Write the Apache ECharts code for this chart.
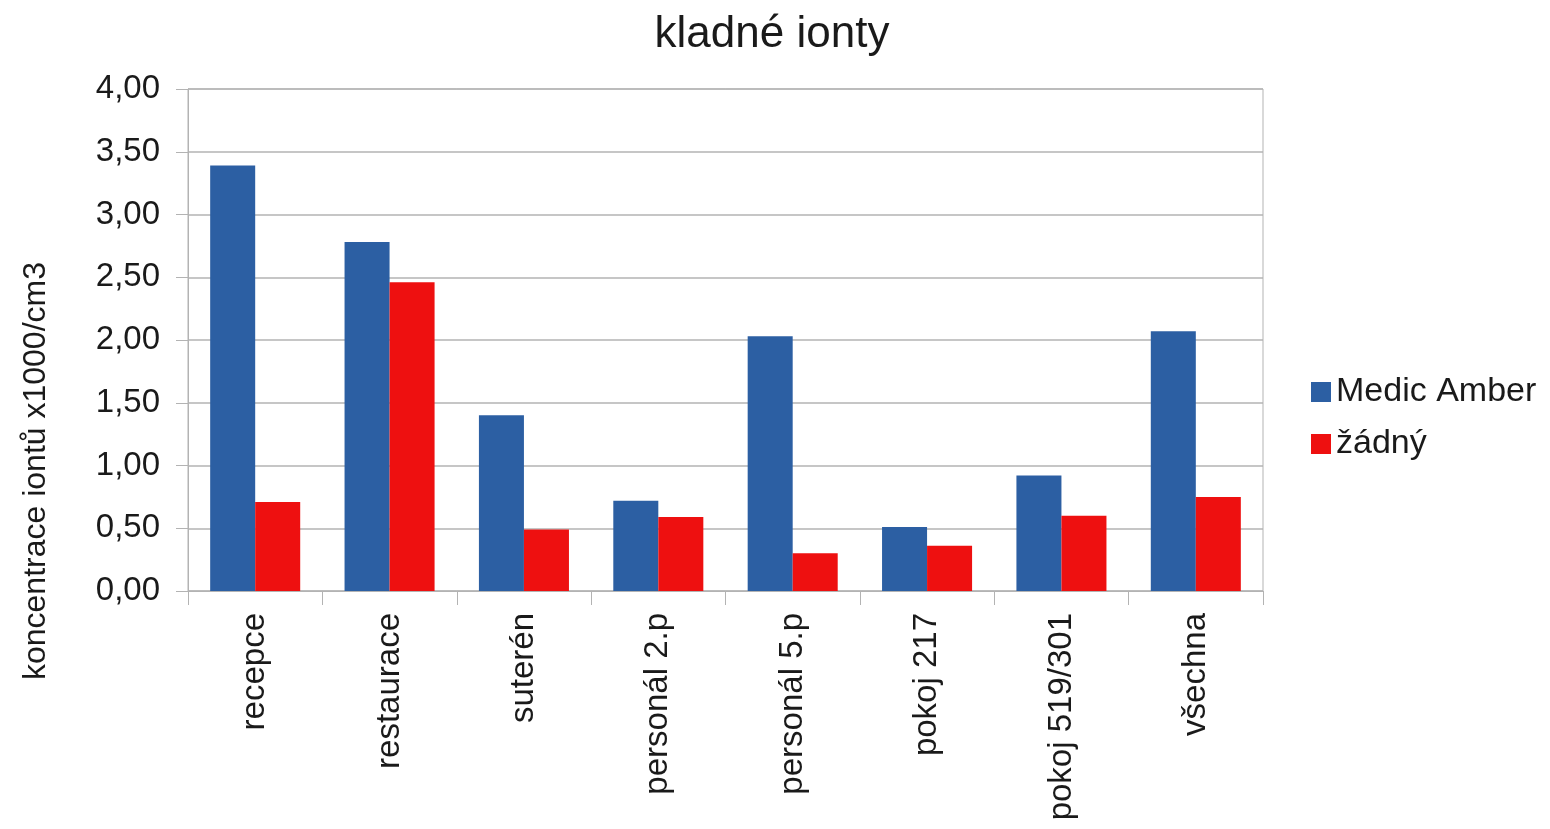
<!DOCTYPE html>
<html><head><meta charset="utf-8">
<script src="https://cdn.jsdelivr.net/npm/echarts@6/dist/echarts.min.js"></script>
<style>html,body{margin:0;padding:0;background:#fff}#c{width:1550px;height:829px}</style>
</head><body><div id="c"></div>
<script>
const categories = ['recepce','restaurace','suterén','personál 2.p','personál 5.p','pokoj 217','pokoj 519/301','všechna'];
const medicAmber = [3.39, 2.78, 1.40, 0.72, 2.03, 0.51, 0.92, 2.07];
const zadny = [0.71, 2.46, 0.49, 0.59, 0.30, 0.36, 0.60, 0.75];
const seriesNames = ['Medic Amber', 'žádný'];
const titleText = 'kladné ionty';
const yName = 'koncentrace iontů x1000/cm3';

const font = 'Liberation Sans, Arial, sans-serif';
const chart = echarts.init(document.getElementById('c'));
chart.setOption({
  animation: false,
  title: { text: titleText, left: 767, top: 8, textAlign: 'center',
    textStyle: { fontFamily: font, fontSize: 44, fontWeight: 'normal', color: '#1a1a1a' } },
  legend: { orient: 'vertical', left: 1306, top: 370, itemWidth: 20, itemHeight: 20, itemGap: 18,
    icon: 'rect', data: seriesNames,
    textStyle: { fontFamily: font, fontSize: 34, color: '#1a1a1a' } },
  graphic: [{ type: 'text', x: 36, y: 471, rotation: Math.PI / 2,
    style: { text: yName, font: '32px ' + font, fill: '#1a1a1a', align: 'center', verticalAlign: 'middle' } }],
  grid: { left: 188, right: 287, top: 89, bottom: 238, show: true, borderColor: '#b3b3b3', borderWidth: 1 },
  xAxis: { type: 'category', data: categories,
    axisLine: { lineStyle: { color: '#b3b3b3' } },
    axisTick: { show: true, length: 14, alignWithLabel: false, lineStyle: { color: '#b3b3b3' } },
    axisLabel: { rotate: 90, fontFamily: font, fontSize: 33, color: '#1a1a1a', margin: 22 } },
  yAxis: { type: 'value', min: 0, max: 4, interval: 0.5,
    axisLine: { show: true, lineStyle: { color: '#b3b3b3' } },
    axisTick: { show: true, length: 12, lineStyle: { color: '#b3b3b3' } },
    splitLine: { lineStyle: { color: '#b3b3b3', width: 1.5 } },
    axisLabel: { fontFamily: font, fontSize: 33, color: '#1a1a1a', margin: 28,
      formatter: v => v.toFixed(2).replace('.', ',') } },
  series: [
    { name: seriesNames[0], type: 'bar', data: medicAmber, barGap: '0%', barCategoryGap: '33%',
      itemStyle: { color: '#2c5fa3' } },
    { name: seriesNames[1], type: 'bar', data: zadny,
      itemStyle: { color: '#ee1010' } }
  ]
});
</script></body></html>
